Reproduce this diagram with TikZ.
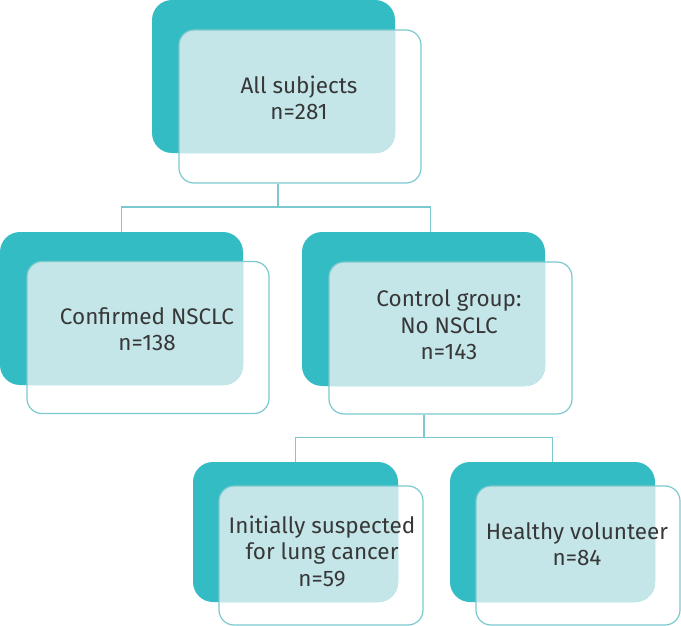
\documentclass[tikz,border=0pt]{standalone}
\usepackage{fontspec}
\setmainfont{Fira Sans}
\definecolor{teal1}{RGB}{52,188,196}
\definecolor{light1}{RGB}{197,230,233}
\definecolor{edge1}{RGB}{122,201,207}
\definecolor{txt1}{RGB}{55,55,55}
\begin{document}
\begin{tikzpicture}[x=1pt,y=-1pt,
  tealbox/.style={fill=teal1, rounded corners=20pt, inner sep=0pt, draw=none},
  outbox/.style={draw=edge1, line width=1.2pt, rounded corners=15pt, inner sep=0pt},
  lbl/.style={font=\fontsize{22.5}{26.5}\selectfont, text=txt1, align=center, inner sep=0pt},
  conn/.style={draw=edge1, line width=1.4pt}]
\useasboundingbox (0,0) rectangle (681,626);

% connector junction points
\coordinate (j1) at (278,207);
\coordinate (k1) at (430.7,207);
\coordinate (j2) at (424,437.3);
\coordinate (k2) at (552.7,437.3);

% box 1
\node[tealbox, minimum width=243pt, minimum height=153pt] (t1) at (273.5,76.5) {};
\node[outbox, minimum width=242pt, minimum height=153pt,
  path picture={\fill[light1, rounded corners=20pt] (t1.north west) rectangle (t1.south east);}] (o1) at (300,106.5) {};
\node[lbl] (l1) at (299,98) {All subjects\\n=281};

% box 2
\node[tealbox, minimum width=243pt, minimum height=153pt] (t2) at (121.5,308.5) {};
\node[outbox, minimum width=242pt, minimum height=152pt,
  path picture={\fill[light1, rounded corners=20pt] (t2.north west) rectangle (t2.south east);}] (o2) at (148,337.5) {};
\node[lbl] (l2) at (147,329) {Confirmed NSCLC\\n=138};

% box 3
\node[tealbox, minimum width=243pt, minimum height=154pt] (t3) at (423.5,309) {};
\node[outbox, minimum width=243pt, minimum height=152pt,
  path picture={\fill[light1, rounded corners=20pt] (t3.north west) rectangle (t3.south east);}] (o3) at (450.5,338) {};
\node[lbl] (l3) at (449,325) {Control group:\\No NSCLC\\n=143};

% box 4
\node[tealbox, minimum width=205pt, minimum height=140pt] (t4) at (295.5,532) {};
\node[outbox, minimum width=204pt, minimum height=139pt,
  path picture={\fill[light1, rounded corners=20pt] (t4.north west) rectangle (t4.south east);}] (o4) at (321,555.5) {};
\node[lbl] (l4) at (322,551) {Initially suspected\\for lung cancer\\n=59};

% box 5
\node[tealbox, minimum width=205pt, minimum height=140pt] (t5) at (552.5,532) {};
\node[outbox, minimum width=204pt, minimum height=139pt,
  path picture={\fill[light1, rounded corners=20pt] (t5.north west) rectangle (t5.south east);}] (o5) at (578,555.5) {};
\node[lbl] (l5) at (577,544) {Healthy volunteer\\n=84};

% connectors
\draw[conn] (o1.south -| j1) -- (j1);
\draw[conn] (t2.north) |- (k1) -- (k1 |- t3.north);
\draw[conn] (o3.south -| j2) -- (j2);
\draw[conn] (t4.north) |- (k2) -- (k2 |- t5.north);
\end{tikzpicture}
\end{document}
